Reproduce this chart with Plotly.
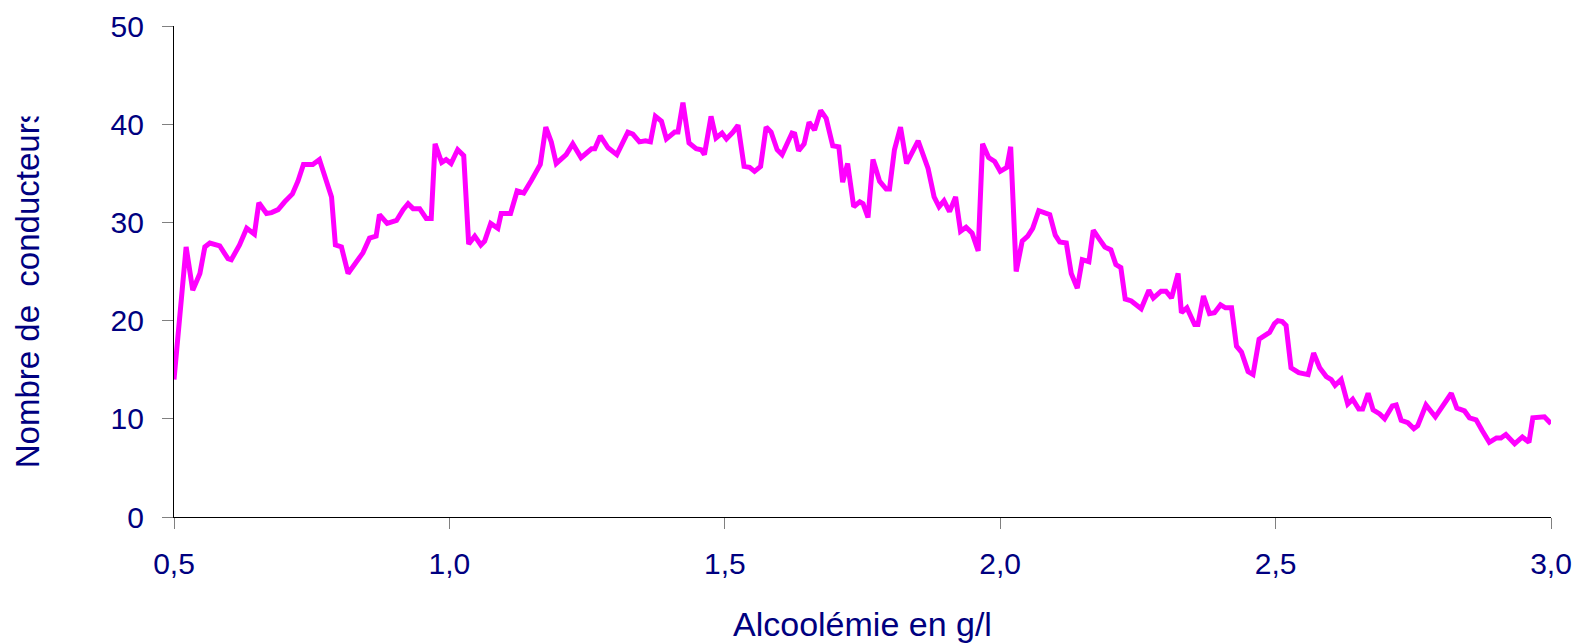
import plotly.graph_objects as go

# Alcoolémie (g/l) at each visible vertex of the curve
alcoolemie = [
    0.500, 0.522, 0.534, 0.547, 0.556, 0.565, 0.583, 0.598, 0.604, 0.619,
    0.632, 0.646, 0.654, 0.668, 0.677, 0.689, 0.701, 0.715, 0.725, 0.735,
    0.752, 0.764, 0.786, 0.793, 0.804, 0.816, 0.843, 0.855, 0.867, 0.873,
    0.887, 0.904, 0.916, 0.925, 0.934, 0.946, 0.958, 0.967, 0.974, 0.986,
    0.994, 1.003, 1.015, 1.026, 1.035, 1.046, 1.057, 1.064, 1.075, 1.088,
    1.094, 1.111, 1.123, 1.135, 1.149, 1.165, 1.175, 1.185, 1.194, 1.212,
    1.224, 1.239, 1.258, 1.264, 1.274, 1.288, 1.304, 1.324, 1.333, 1.345,
    1.356, 1.365, 1.374, 1.385, 1.394, 1.409, 1.415, 1.424, 1.435, 1.448,
    1.457, 1.463, 1.475, 1.484, 1.495, 1.503, 1.515, 1.524, 1.535, 1.545,
    1.554, 1.565, 1.575, 1.584, 1.595, 1.604, 1.622, 1.627, 1.634, 1.644,
    1.653, 1.663, 1.674, 1.684, 1.696, 1.707, 1.714, 1.723, 1.734, 1.745,
    1.751, 1.760, 1.769, 1.781, 1.793, 1.799, 1.808, 1.819, 1.830, 1.851,
    1.869, 1.880, 1.889, 1.898, 1.908, 1.919, 1.928, 1.938, 1.949, 1.960,
    1.968, 1.979, 1.990, 2.000, 2.012, 2.019, 2.029, 2.040, 2.050, 2.059,
    2.070, 2.085, 2.090, 2.100, 2.108, 2.120, 2.129, 2.140, 2.149, 2.161,
    2.169, 2.180, 2.190, 2.201, 2.210, 2.219, 2.227, 2.238, 2.256, 2.270,
    2.278, 2.292, 2.301, 2.311, 2.323, 2.329, 2.339, 2.353, 2.359, 2.369,
    2.380, 2.389, 2.400, 2.409, 2.420, 2.429, 2.438, 2.450, 2.459, 2.470,
    2.480, 2.489, 2.498, 2.504, 2.512, 2.519, 2.528, 2.542, 2.559, 2.569,
    2.580, 2.592, 2.601, 2.608, 2.619, 2.631, 2.640, 2.651, 2.658, 2.668,
    2.677, 2.689, 2.698, 2.712, 2.719, 2.728, 2.740, 2.751, 2.758, 2.773,
    2.790, 2.804, 2.819, 2.829, 2.843, 2.852, 2.864, 2.875, 2.888, 2.901,
    2.909, 2.918, 2.934, 2.948, 2.960, 2.967, 2.980, 2.988, 3.000,
]

# Nombre de conducteurs
conducteurs = [
    14.0, 27.5, 23.1, 24.8, 27.5, 27.9, 27.6, 26.3, 26.2, 27.7,
    29.4, 28.8, 32.0, 30.9, 31.0, 31.3, 32.1, 32.9, 34.2, 35.9,
    35.9, 36.4, 32.6, 27.7, 27.5, 24.8, 26.9, 28.4, 28.6, 30.8,
    29.9, 30.2, 31.3, 31.9, 31.4, 31.4, 30.4, 30.4, 38.0, 36.1,
    36.4, 36.0, 37.4, 36.8, 27.8, 28.6, 27.7, 28.1, 29.9, 29.4,
    30.9, 30.9, 33.2, 33.0, 34.3, 35.9, 39.7, 38.2, 36.0, 36.9,
    38.0, 36.6, 37.5, 37.5, 38.8, 37.6, 36.9, 39.2, 39.0, 38.2,
    38.3, 38.2, 40.8, 40.3, 38.5, 39.2, 39.2, 42.2, 38.1, 37.5,
    37.4, 36.9, 40.8, 38.6, 39.1, 38.5, 39.2, 39.9, 35.7, 35.6,
    35.2, 35.7, 39.7, 39.2, 37.4, 36.9, 39.1, 39.0, 37.3, 38.0,
    40.2, 39.4, 41.4, 40.6, 37.8, 37.7, 34.1, 36.0, 31.6, 32.1,
    31.9, 30.5, 36.4, 34.2, 33.4, 33.4, 37.4, 39.7, 36.0, 38.3,
    35.5, 32.6, 31.6, 32.2, 31.1, 32.6, 29.1, 29.5, 28.9, 27.1,
    38.0, 36.6, 36.2, 35.2, 35.6, 37.7, 25.0, 28.1, 28.6, 29.4,
    31.2, 30.9, 30.8, 28.7, 28.0, 27.9, 24.8, 23.3, 26.2, 26.0,
    29.2, 28.3, 27.5, 27.2, 25.7, 25.4, 22.2, 22.0, 21.2, 23.1,
    22.3, 23.0, 23.0, 22.3, 24.8, 20.8, 21.3, 19.6, 19.6, 22.5,
    20.7, 20.8, 21.6, 21.3, 21.3, 17.4, 16.8, 14.8, 14.5, 18.1,
    18.4, 18.8, 19.7, 20.0, 19.9, 19.5, 15.2, 14.7, 14.5, 16.7,
    15.2, 14.3, 14.0, 13.4, 14.0, 11.5, 12.0, 11.0, 11.0, 12.6,
    10.9, 10.5, 10.0, 11.3, 11.4, 9.85, 9.6, 9.0, 9.3, 11.4,
    10.2, 11.3, 12.6, 11.1, 10.8, 10.1, 9.9, 8.8, 7.6, 8.05,
    8.05, 8.4, 7.45, 8.15, 7.6, 10.1, 10.1, 10.2, 9.5,
]

x_ticks = [0.5, 1.0, 1.5, 2.0, 2.5, 3.0]
y_ticks = [0, 10, 20, 30, 40, 50]

x_title = "Alcoolémie en g/l"
y_title = "Nombre de  conducteurs"

NAVY = "#000080"
FONT = "Liberation Sans, Arial, sans-serif"

# the page body adds an 8 px offset, so the figure is 8 px smaller
W, H = 1577, 636
L, R, T, B = 166, 1543, 18, 509.5   # plot area in figure pixels


def px(xf):
    return (xf - L) / (R - L)


def py(yf):
    return (B - yf) / (B - T)


fig = go.Figure(
    go.Scatter(
        x=alcoolemie,
        y=conducteurs,
        mode="lines",
        line=dict(color="#FF00FF", width=5),
        hoverinfo="x+y",
    )
)

axis_common = dict(
    automargin=False,
    showgrid=False,
    zeroline=False,
    showline=True,
    linecolor="#000000",
    linewidth=1.3,
    ticks="outside",
    ticklen=11,
    tickwidth=1.3,
    tickcolor="#808080",
    tickfont=dict(family=FONT, size=30, color=NAVY),
)

fig.update_xaxes(
    range=[0.5, 3.0],
    tickvals=x_ticks,
    tickformat=".1f",
    ticklabelstandoff=9,
    **axis_common,
)
fig.update_yaxes(
    range=[0, 50],
    tickvals=y_ticks,
    ticklabelstandoff=12,
    **axis_common,
)

fig.update_layout(
    width=W,
    height=H,
    separators=", ",
    paper_bgcolor="white",
    plot_bgcolor="white",
    showlegend=False,
    margin=dict(l=L, r=W - R, t=T, b=H - B),
    font=dict(family=FONT, color=NAVY),
    annotations=[
        dict(
            text=x_title,
            xref="paper", yref="paper",
            x=px(855), y=py(617),
            xanchor="center", yanchor="middle",
            showarrow=False,
            font=dict(family=FONT, size=34, color=NAVY),
        ),
        dict(
            text=y_title,
            xref="paper", yref="paper",
            x=px(19.5), y=py(280),
            xanchor="center", yanchor="middle",
            textangle=-90,
            showarrow=False,
            font=dict(family=FONT, size=33, color=NAVY),
        ),
        # blank white box emulating the clipped top of the y-axis title
        dict(
            text=" ",
            xref="paper", yref="paper",
            x=px(19.5), y=py(92),
            xanchor="center", yanchor="middle",
            showarrow=False,
            bgcolor="white",
            width=50, height=30,
            font=dict(size=10),
        ),
    ],
)

fig.write_html("out.html")
